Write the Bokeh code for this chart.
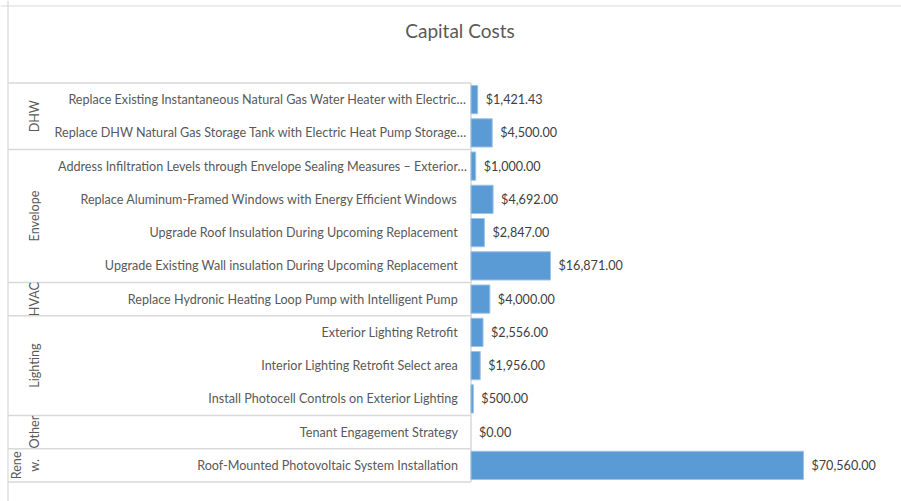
import numpy as np
from bokeh.plotting import figure
from bokeh.models import ColumnDataSource, Range1d, Span, Label
from bokeh.core.properties import value
from bokeh.embed import file_html
from bokeh.resources import INLINE

# ---- data ----
groups = ["DHW", "Envelope", "HVAC", "Lighting", "Other", "Rene\nw."]
group_sizes = [2, 4, 1, 3, 1, 1]
measures = [
    "Replace Existing Instantaneous Natural Gas Water Heater with Electric…",
    "Replace DHW Natural Gas Storage Tank with Electric Heat Pump Storage…",
    "Address Infiltration Levels through Envelope Sealing Measures – Exterior…",
    "Replace Aluminum-Framed Windows with Energy Efficient Windows",
    "Upgrade Roof Insulation During Upcoming Replacement",
    "Upgrade Existing Wall insulation During Upcoming Replacement",
    "Replace Hydronic Heating Loop Pump with Intelligent Pump",
    "Exterior Lighting Retrofit",
    "Interior Lighting Retrofit Select area",
    "Install Photocell Controls on Exterior Lighting",
    "Tenant Engagement Strategy",
    "Roof-Mounted Photovoltaic System Installation",
]
costs = [1421.43, 4500.00, 1000.00, 4692.00, 2847.00, 16871.00,
         4000.00, 2556.00, 1956.00, 500.00, 0.00, 70560.00]
title_text = "Capital Costs"

# ---- layout (pixels) ----
W, H = 901, 501
AXIS_PX = 470.5      # x of the category axis
BAR_MAX_PX = 332.5   # pixel length of the longest bar
ROW_TOP = 82.5       # y of the first row
ROW_H = 33.25
BORDER_X = 7.5
BORDER_Y = 5.5
FONT = "Lato"
FS = "12.6px"
GRID = "#d9d9d9"
TXT = "#595959"

n = len(measures)
px_per = BAR_MAX_PX / max(costs)
x_start = -AXIS_PX / px_per
x_end = (W - AXIS_PX) / px_per
y_start = -(H - ROW_TOP - n * ROW_H) / ROW_H
y_end = n + ROW_TOP / ROW_H
x_border = x_start + BORDER_X / px_per
y_border = y_end - BORDER_Y / ROW_H

p = figure(width=W, height=H, output_backend="svg", toolbar_location=None,
           x_range=Range1d(x_start, x_end), y_range=Range1d(y_start, y_end),
           x_axis_type=None, y_axis_type=None, min_border=0)
p.grid.visible = False
p.outline_line_color = None
p.background_fill_color = "white"
p.border_fill_color = "white"

ys = [n - i - 0.5 for i in range(n)]
src = ColumnDataSource(dict(
    y=ys, cost=costs, measure=measures,
    lab=[f"${c:,.2f}" for c in costs],
    xoff=[-4 if m.endswith("…") else -13 for m in measures],
    la=[1.0 if c > 0 else 0.0 for c in costs],
))

# outer chart border (top & left)
p.add_layout(Span(location=y_border, dimension="width",
                  line_color=GRID, line_width=1.2))
p.add_layout(Span(location=x_border, dimension="height",
                  line_color=GRID, line_width=1.2))

# table lines
cum = np.cumsum([0] + group_sizes)
bounds = [n - c for c in cum]
p.segment(x0=[x_border] * len(bounds), x1=[0] * len(bounds), y0=bounds, y1=bounds,
          line_color=GRID, line_width=1.5)
p.segment(x0=[0], x1=[0], y0=[0], y1=[n], line_color=GRID, line_width=1.5)

# bars
p.hbar(y="y", left=0, right="cost", height=0.85, source=src,
       fill_color="#5b9bd5", line_color="#9dc3e6", line_width=1, line_alpha="la")

# item labels
p.text(x=0, y="y", text="measure", x_offset="xoff", source=src,
       text_align="right", text_baseline="middle",
       text_font=value(FONT), text_font_size=FS, text_color=TXT)

# value labels
p.text(x="cost", y="y", text="lab", x_offset=8, source=src,
       text_align="left", text_baseline="middle",
       text_font=value(FONT), text_font_size=FS, text_color="#404040")

# group labels
gy = [n - (cum[i] + group_sizes[i] / 2) for i in range(len(groups))]
p.text(x=[x_border] * len(groups), y=gy, text=groups, x_offset=34, angle=np.pi / 2,
       text_align="center", text_baseline="bottom",
       text_font=value(FONT), text_font_size=FS, text_color=TXT)

# title
p.add_layout(Label(x=459.5, y=H - 30, x_units="screen", y_units="screen",
                   text=title_text, text_align="center", text_baseline="middle",
                   text_font=FONT, text_font_size="19px", text_color=TXT))

open("out.html", "w").write(file_html(p, INLINE))
